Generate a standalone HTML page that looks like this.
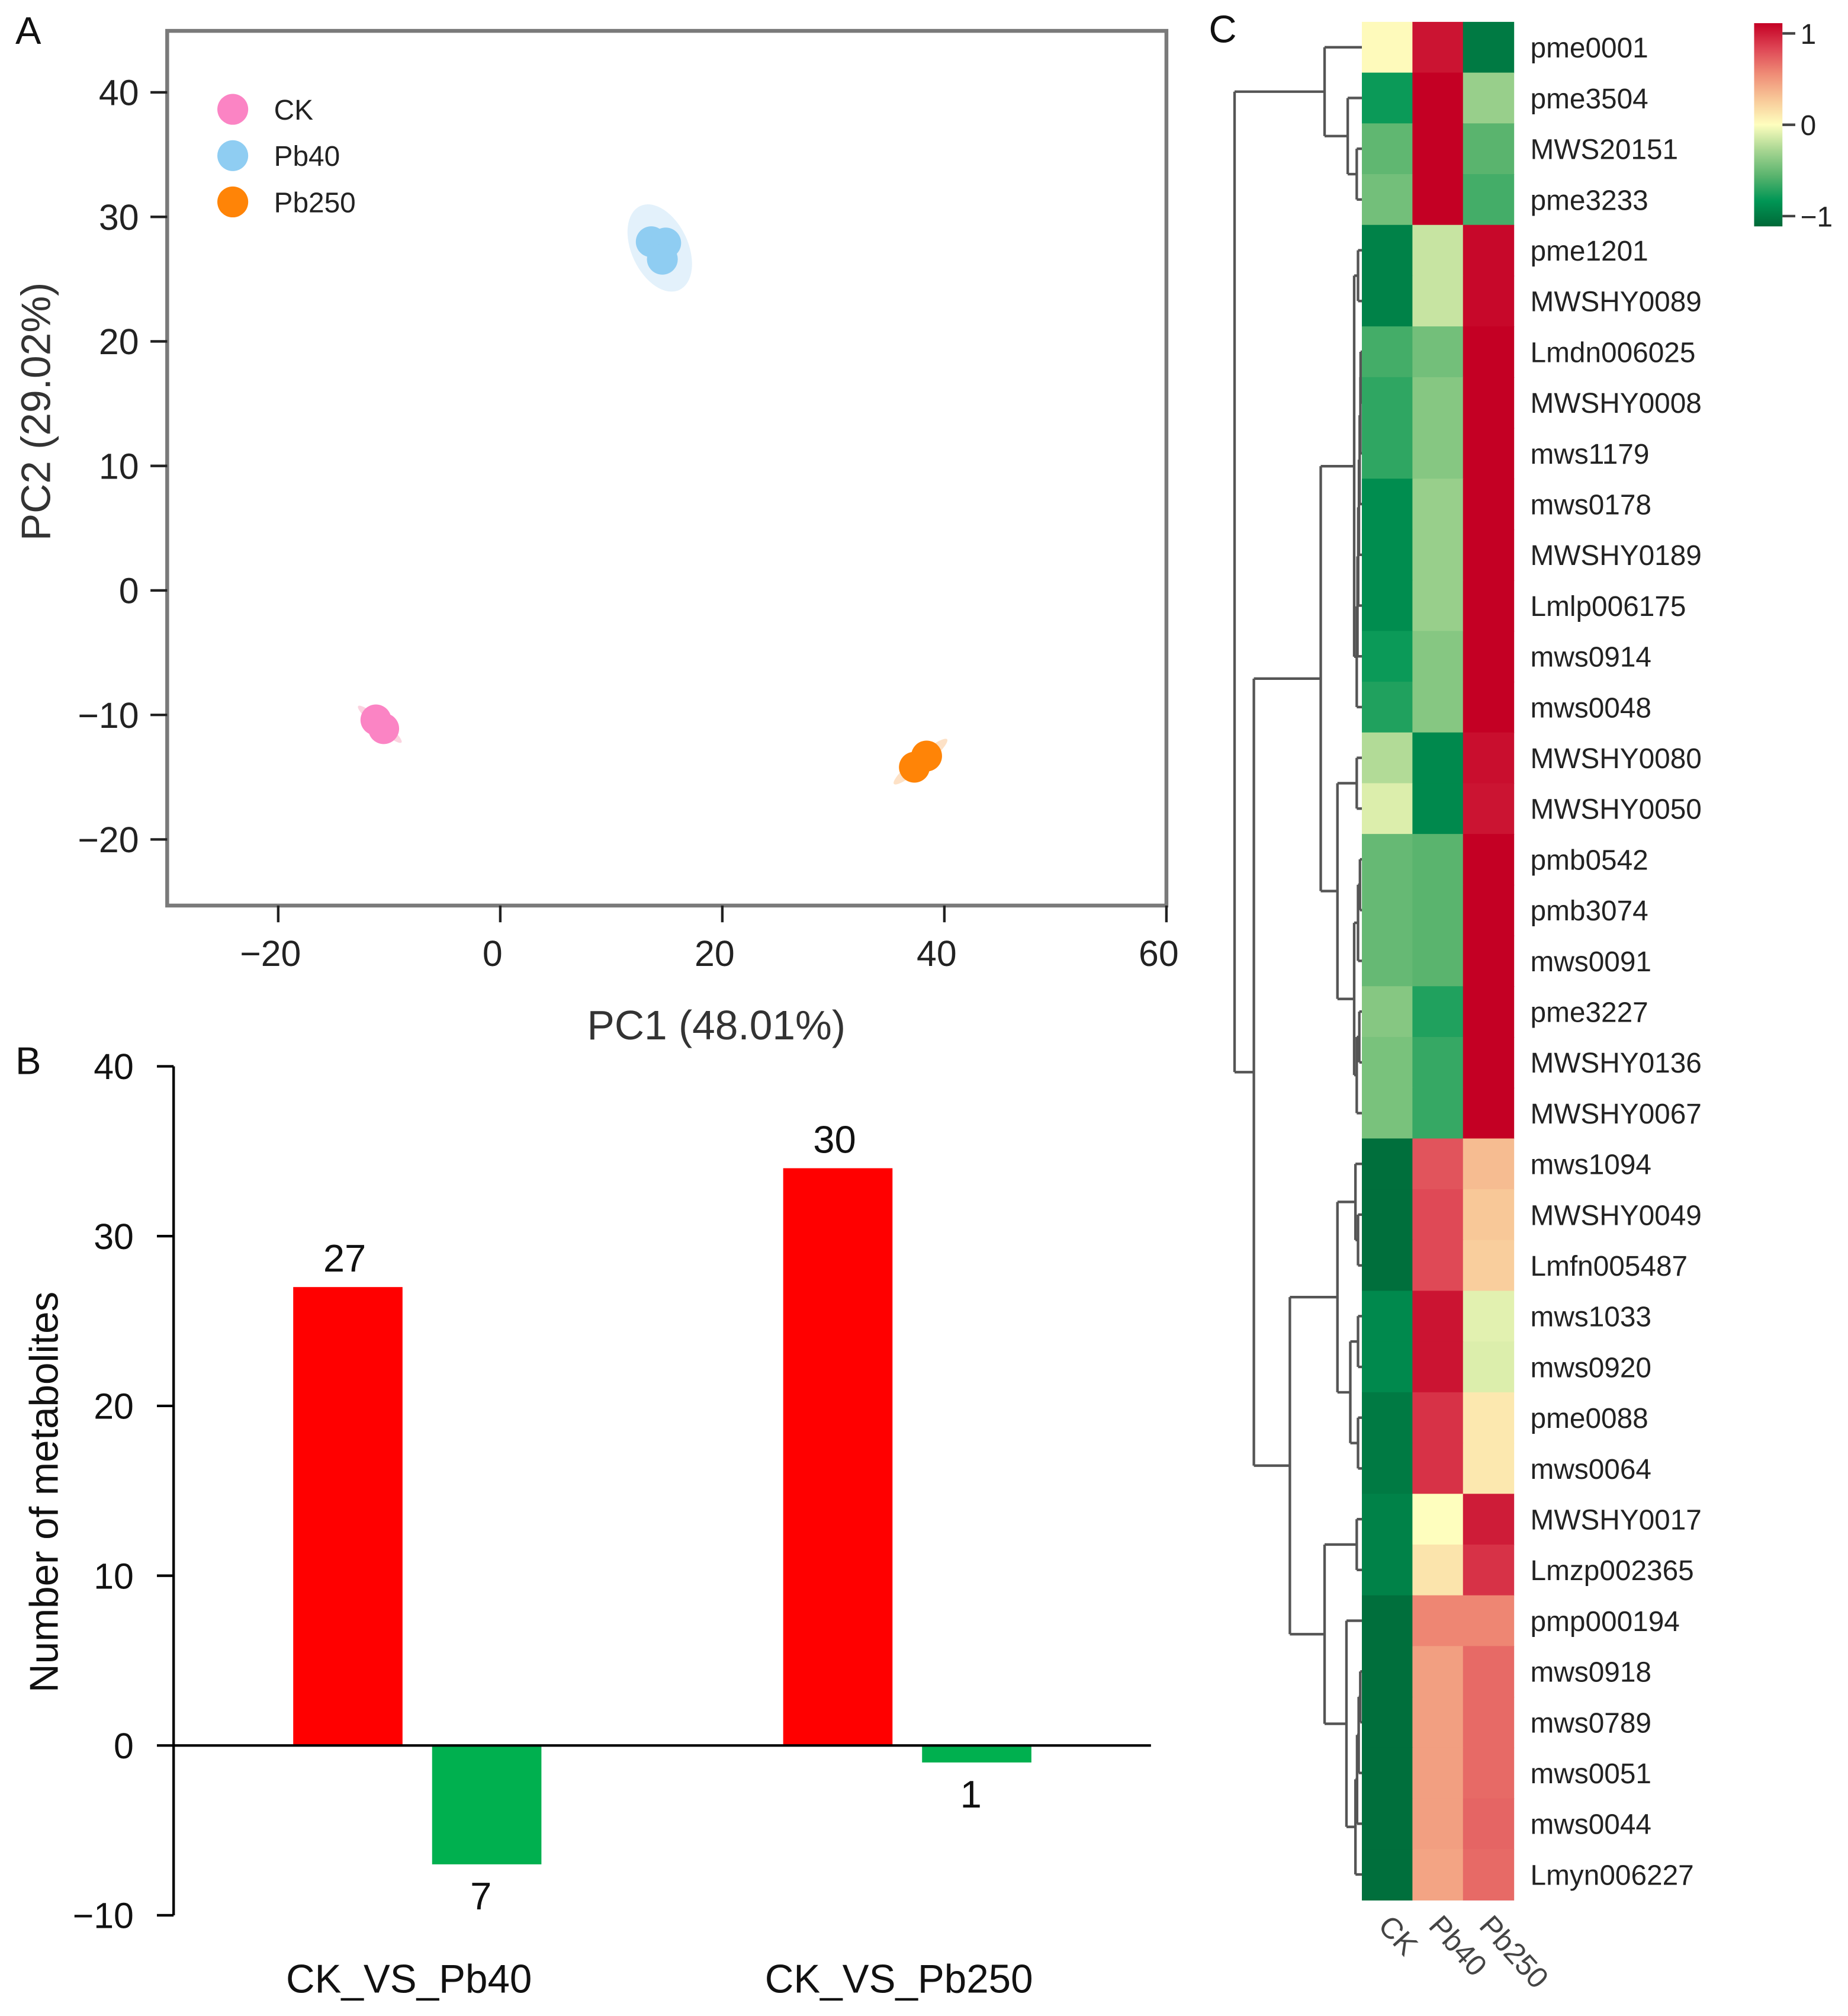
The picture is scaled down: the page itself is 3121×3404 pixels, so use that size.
<!DOCTYPE html>
<html><head><meta charset="utf-8"><style>
html,body{margin:0;padding:0;background:#fff}
svg{display:block}
text{font-family:"Liberation Sans",sans-serif}
</style></head><body>
<svg id="fig" xmlns="http://www.w3.org/2000/svg" width="3121" height="3404" viewBox="0 0 1437 1567.3" preserveAspectRatio="none">
<rect width="1437" height="1567.3" fill="#fff"/>
<g id="pa"></g>
<g id="pb"></g>
<g id="pc"></g>
</svg>
<script>
// ---------- Panel A data ----------
const pcaGroups = ["CK","Pb40","Pb250"];
const pcaColors = ["#fb84c4","#8fcdf2","#ff8407"];
const ckX = [-11.2,-10.5];
const ckY = [-10.4,-11.1];
const pb40X = [13.6,14.9,14.6];
const pb40Y = [28.0,27.9,26.6];
const pb250X = [37.3,38.4];
const pb250Y = [-14.2,-13.3];
const xTicksA = [-20,0,20,40,60];
const yTicksA = [-20,-10,0,10,20,30,40];
// ---------- Panel B data ----------
const barCats = ["CK_VS_Pb40","CK_VS_Pb250"];
const upValues = [27,34];
const downValues = [-7,-1];
const upLabels = ["27","30"];
const downLabels = ["7","1"];
const yTicksB = [-10,0,10,20,30,40];
// ---------- Panel C data ----------
const hmCols = ["CK","Pb40","Pb250"];
const hmRows = ["pme0001","pme3504","MWS20151","pme3233","pme1201","MWSHY0089","Lmdn006025","MWSHY0008","mws1179","mws0178","MWSHY0189","Lmlp006175","mws0914","mws0048","MWSHY0080","MWSHY0050","pmb0542","pmb3074","mws0091","pme3227","MWSHY0136","MWSHY0067","mws1094","MWSHY0049","Lmfn005487","mws1033","mws0920","pme0088","mws0064","MWSHY0017","Lmzp002365","pmp000194","mws0918","mws0789","mws0051","mws0044","Lmyn006227"];
const ckVals   = [0.02,-0.72,-0.48,-0.42,-0.86,-0.86,-0.56,-0.62,-0.62,-0.8,-0.8,-0.8,-0.72,-0.66,-0.22,-0.1,-0.46,-0.46,-0.46,-0.36,-0.4,-0.4,-0.96,-0.96,-0.96,-0.82,-0.82,-0.9,-0.9,-0.86,-0.86,-0.96,-0.96,-0.96,-0.96,-0.96,-0.96];
const pb40Vals = [0.93,1,1,1,-0.16,-0.16,-0.42,-0.36,-0.36,-0.3,-0.3,-0.3,-0.36,-0.36,-0.82,-0.82,-0.5,-0.5,-0.5,-0.66,-0.6,-0.6,0.7,0.74,0.74,0.93,0.93,0.82,0.82,0.0,0.12,0.52,0.42,0.42,0.42,0.42,0.4];
const pb250Vals= [-0.9,-0.3,-0.5,-0.56,0.97,0.97,1,1,1,1,1,1,1,1,0.95,0.93,1,1,1,1,1,1,0.3,0.25,0.22,-0.08,-0.1,0.1,0.1,0.9,0.82,0.52,0.62,0.62,0.62,0.64,0.62];
const cbTicks = [1,0,-1];
const cbTickLabels = ["1","0","\u22121"];

const NS="http://www.w3.org/2000/svg";
function mk(parent,tag,attrs,txt){const e=document.createElementNS(NS,tag);for(const k in attrs)e.setAttribute(k,attrs[k]);if(txt!==undefined)e.textContent=txt;parent.appendChild(e);return e;}
function fmt(v){return v<0?"\u2212"+Math.abs(v):String(v);}

// ===== Panel A =====
const pa=document.getElementById('pa');
const ax=v=>130+(v+30)*(777/90);
const ay=v=>459-v*9.68;
let t=mk(pa,'text',{x:12,y:34,'font-size':30,fill:'#111'},'A');


const ellData=[[ (ckX[0]+ckX[1])/2,(ckY[0]+ckY[1])/2,22,4,40,'#fbd3e0'],[(pb40X[0]+pb40X[1]+pb40X[2])/3,(pb40Y[0]+pb40Y[1]+pb40Y[2])/3,22,36,-25,'#e3f1fb'],[(pb250X[0]+pb250X[1])/2,(pb250Y[0]+pb250Y[1])/2,27,5,-40,'#fde1c6']];
ellData.forEach((d,i)=>{const cx=ax(d[0]),cy=ay(d[1]);const e=mk(pa,'ellipse',{cx:cx,cy:cy,rx:d[2],ry:d[3],fill:d[5],transform:`rotate(${d[4]} ${cx} ${cy})`});

});
[[ckX,ckY],[pb40X,pb40Y],[pb250X,pb250Y]].forEach((s,gi)=>{s[0].forEach((xv,j)=>{const c=mk(pa,'circle',{cx:ax(xv),cy:ay(s[1][j]),r:12,fill:pcaColors[gi]});

});});
let fr=mk(pa,'rect',{x:130,y:24,width:777,height:680,fill:'none',stroke:'#7a7a7a','stroke-width':3});


yTicksA.forEach(v=>{const y=ay(v);mk(pa,'line',{x1:117,x2:130,y1:y,y2:y,stroke:'#222','stroke-width':2});
const l=mk(pa,'text',{x:108,y:y+10,'font-size':28,fill:'#222','text-anchor':'end'},fmt(v));

});
xTicksA.forEach(v=>{const x=ax(v);mk(pa,'line',{x1:x,x2:x,y1:704,y2:717,stroke:'#222','stroke-width':2});
const l=mk(pa,'text',{x:x-6,y:751,'font-size':28,fill:'#222','text-anchor':'middle'},fmt(v));

});
t=mk(pa,'text',{x:557,y:808,'font-size':32,fill:'#333','text-anchor':'middle'},'PC1  (48.01%)');


t=mk(pa,'text',{x:0,y:0,'font-size':32,fill:'#333','text-anchor':'middle',transform:'translate(39 320) rotate(-90)'},'PC2  (29.02%)');


pcaGroups.forEach((g,i)=>{const y=85+i*36;const lg=mk(pa,'g',{});


mk(lg,'circle',{cx:181,cy:y,r:12,fill:pcaColors[i]});mk(lg,'text',{x:213,y:y+8,'font-size':22,fill:'#222'},g);});

// ===== Panel B =====
const pb=document.getElementById('pb');
const by=v=>1357-v*13.2;
t=mk(pb,'text',{x:12,y:835,'font-size':30,fill:'#111'},'B');


const bCenters=[318,699];
barCats.forEach((c,i)=>{const cx=bCenters[i];
const ur=mk(pb,'rect',{x:cx-90,y:by(upValues[i]),width:85,height:by(0)-by(upValues[i]),fill:'#ff0000'});


const dr=mk(pb,'rect',{x:cx+18,y:by(0),width:85,height:by(downValues[i])-by(0),fill:'#00b04f'});


let l=mk(pb,'text',{x:cx-50,y:by(upValues[i])-12,'font-size':30,fill:'#111','text-anchor':'middle'},upLabels[i]);


l=mk(pb,'text',{x:cx+56,y:by(downValues[i])+35,'font-size':30,fill:'#111','text-anchor':'middle'},downLabels[i]);


l=mk(pb,'text',{x:cx,y:1549,'font-size':31,fill:'#111','text-anchor':'middle'},c);

});
let axl=mk(pb,'line',{x1:135,x2:135,y1:by(40),y2:by(-10),stroke:'#000','stroke-width':2});


axl=mk(pb,'line',{x1:135,x2:895,y1:by(0),y2:by(0),stroke:'#000','stroke-width':2});


yTicksB.forEach(v=>{const y=by(v);mk(pb,'line',{x1:122,x2:135,y1:y,y2:y,stroke:'#000','stroke-width':2});
const l=mk(pb,'text',{x:104,y:y+10,'font-size':28,fill:'#111','text-anchor':'end'},fmt(v));

});
t=mk(pb,'text',{x:0,y:0,'font-size':31,fill:'#111','text-anchor':'middle',transform:'translate(45 1160) rotate(-90)'},'Number of metabolites');



// ===== Panel C =====
const pc=document.getElementById('pc');
t=mk(pc,'text',{x:940,y:33,'font-size':30,fill:'#111'},'C');


const stops=[[-1,[0,104,55]],[-0.75,[0,150,85]],[-0.5,[90,180,110]],[-0.25,[168,214,146]],[0,[254,254,190]],[0.25,[248,200,152]],[0.5,[239,140,118]],[0.75,[222,70,85]],[1,[196,0,36]]];
function col(v){v=Math.max(-1,Math.min(1,v));for(let i=0;i<stops.length-1;i++){const a=stops[i],b=stops[i+1];if(v<=b[0]){const f=(v-a[0])/(b[0]-a[0]);const c=a[1].map((x,k)=>Math.round(x+(b[1][k]-x)*f));return `rgb(${c[0]},${c[1]},${c[2]})`;}}return 'rgb(196,0,36)';}
const hx0=1059,cw=39.3,hy0=17,rh=(1477-17)/hmRows.length;
const vals=[ckVals,pb40Vals,pb250Vals];
hmRows.forEach((r,i)=>{vals.forEach((arr,j)=>{const c=mk(pc,'rect',{x:hx0+j*cw,y:hy0+i*rh,width:cw+0.5,height:rh+0.5,fill:col(arr[i])});

});
const l=mk(pc,'text',{x:1190,y:hy0+i*rh+rh/2+8,'font-size':22,fill:'#222'},r);

});
hmCols.forEach((c,j)=>{const x=hx0+j*cw+cw/2-8,y=1498;const l=mk(pc,'text',{x:0,y:0,'font-size':23,fill:'#444',transform:`translate(${x} ${y}) rotate(48)`},c);

});
const grad=mk(pc,'linearGradient',{id:'cbg',x1:0,y1:1,x2:0,y2:0});
stops.forEach(s=>mk(grad,'stop',{offset:((s[0]+1)/2),'stop-color':col(s[0])}));
const cbTop=18,cbBot=176;
const cb=mk(pc,'rect',{x:1364,y:cbTop,width:22,height:cbBot-cbTop,fill:'url(#cbg)'});


cbTicks.forEach((v,i)=>{const y=cbTop+8+(1-v)/2*(cbBot-cbTop-16);mk(pc,'line',{x1:1386,x2:1396,y1:y,y2:y,stroke:'#444','stroke-width':2});
const l=mk(pc,'text',{x:1400,y:y+8,'font-size':22,fill:'#222'},cbTickLabels[i]);

});
function grp(h,a,b){let n=a;for(let i=a+1;i<=b;i++){n=[Math.max(1,h*(i-a)/(b-a)),[n,i]];}return n;}
const tree=[99,[
 [29,[0,[11,[1,[4,[2,3]]]]]],
 [84,[
   [32,[[6,[grp(3,4,5),grp(4,6,13)]],[19,[[4,[14,15]],[6,[grp(3,16,18),grp(4,19,21)]]]]]],
   [56,[[19,[[5,[22,grp(3,23,24)]],[9,[grp(3,25,26),grp(3,27,28)]]]],[29,[[4,[29,30]],[12,[31,grp(5,32,36)]]]]]]
 ]]
]];
const dg=mk(pc,'g',{stroke:'#555','stroke-width':2,fill:'none'});


function draw(n){if(typeof n==='number')return [hy0+n*rh+rh/2,hx0];
const h=n[0],kids=n[1].map(draw);const x=hx0-h;
kids.forEach(k=>mk(dg,'line',{x1:x,x2:k[1],y1:k[0],y2:k[0]}));
mk(dg,'line',{x1:x,x2:x,y1:kids[0][0],y2:kids[kids.length-1][0]});
return [(kids[0][0]+kids[kids.length-1][0])/2,x];}
draw(tree);
</script>
</body></html>
